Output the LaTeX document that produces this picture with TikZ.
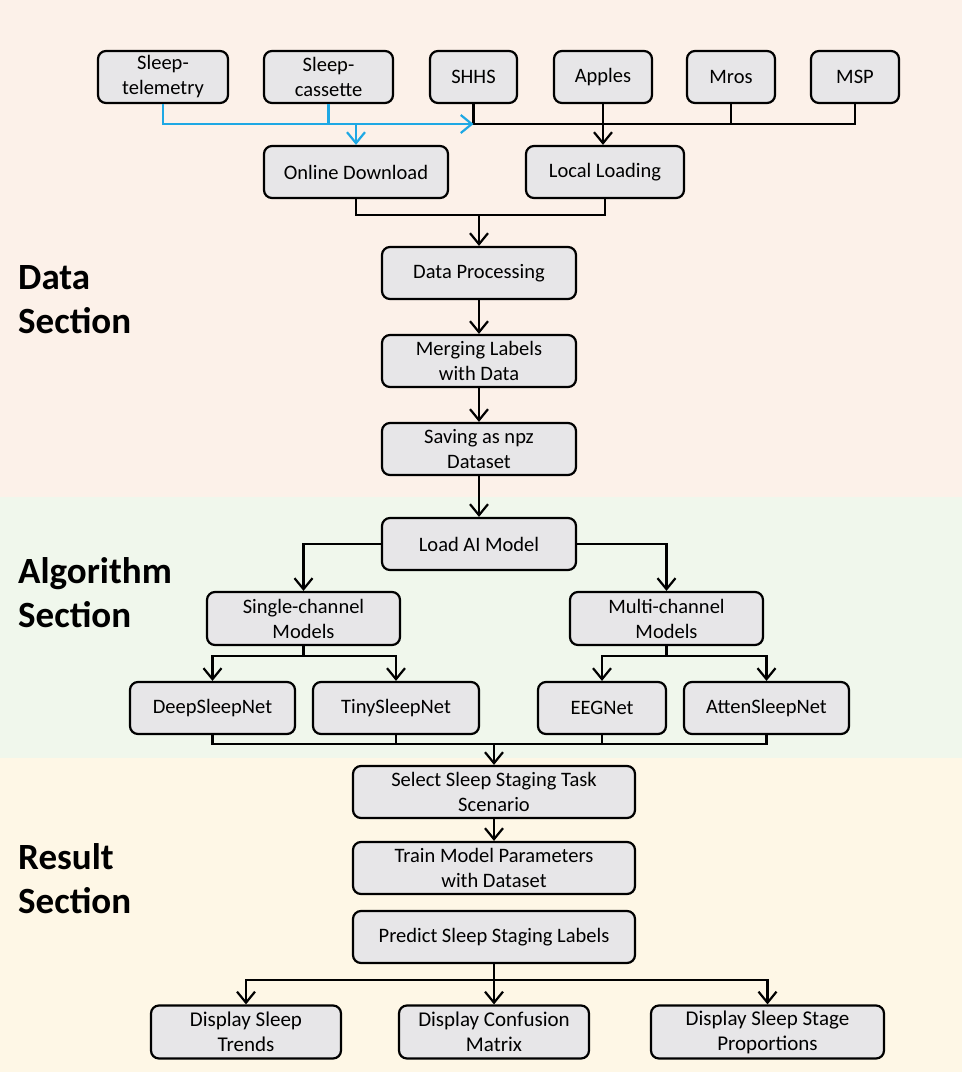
\documentclass[tikz,border=0pt]{standalone}
\usepackage{fontspec}
\setmainfont{Carlito}
\usetikzlibrary{arrows.meta}
\definecolor{bgdata}{RGB}{252,241,233}
\definecolor{bgalg}{RGB}{240,247,236}
\definecolor{bgres}{RGB}{254,247,230}
\definecolor{boxfill}{RGB}{231,230,232}
\definecolor{lineblue}{RGB}{30,168,228}
\tikzset{
  box/.style={draw=black, line width=2.2pt, rounded corners=8pt, fill=boxfill,
    align=center, inner sep=2pt, font=\fontsize{20.5}{25}\selectfont},
  conn/.style={draw=black, line width=2.2pt},
  bconn/.style={draw=lineblue, line width=2.2pt},
  arr/.style={-{Straight Barb[length=11pt,width=18pt,line width=2.2pt]}},
  seclabel/.style={align=left, anchor=west, inner sep=0pt,
    font=\fontsize{37}{44}\selectfont\bfseries}
}
\begin{document}
\begin{tikzpicture}[x=1pt,y=-1pt]
\useasboundingbox (0,0) rectangle (962,1072);
\fill[bgdata] (0,0) rectangle (962,497);
\fill[bgalg] (0,497) rectangle (962,758);
\fill[bgres] (0,758) rectangle (962,1072);

% section labels
\node[seclabel] (ls1) at (18,300) {Data\\Section};
\node[seclabel] (ls2) at (18,593) {Algorithm\\Section};
\node[seclabel] (ls3) at (18,879) {Result\\Section};

% top row
\node[box, minimum width=130pt, minimum height=52pt] (tel) at (163,77) {Sleep-\\telemetry};
\node[box, minimum width=129pt, minimum height=52pt] (cas) at (328.5,77) {Sleep-\\cassette};
\node[box, minimum width=87pt, minimum height=52pt] (shhs) at (473.5,77) {SHHS};
\node[box, minimum width=98pt, minimum height=52pt] (app) at (603,77) {Apples};
\node[box, minimum width=88pt, minimum height=52pt] (mros) at (731,77) {Mros};
\node[box, minimum width=88pt, minimum height=52pt] (msp) at (855,77) {MSP};

\node[box, minimum width=184pt, minimum height=52pt] (od) at (356,172) {Online Download};
\node[box, minimum width=158pt, minimum height=52pt] (ll) at (605,172) {Local Loading};

\node[box, minimum width=194pt, minimum height=52pt] (dp) at (479,273) {Data Processing};
\node[box, minimum width=194pt, minimum height=52pt] (ml) at (479,361) {Merging Labels\\with Data};
\node[box, minimum width=194pt, minimum height=52pt] (sv) at (479,449) {Saving as npz\\Dataset};
\node[box, minimum width=194pt, minimum height=52pt] (la) at (479,544) {Load AI Model};

\node[box, minimum width=193pt, minimum height=53pt] (sc) at (303.5,618.5) {Single-channel\\Models};
\node[box, minimum width=193pt, minimum height=53pt] (mc) at (666.5,618.5) {Multi-channel\\Models};

\node[box, minimum width=165pt, minimum height=52pt] (dsn) at (212.5,708) {DeepSleepNet};
\node[box, minimum width=166pt, minimum height=52pt] (tsn) at (396,708) {TinySleepNet};
\node[box, minimum width=128pt, minimum height=52pt] (eeg) at (602,708) {EEGNet};
\node[box, minimum width=165pt, minimum height=52pt] (asn) at (766.5,708) {AttenSleepNet};

\node[box, minimum width=282pt, minimum height=52pt] (sel) at (494,792) {Select Sleep Staging Task\\Scenario};
\node[box, minimum width=282pt, minimum height=52pt] (tr) at (494,868) {Train Model Parameters\\with Dataset};
\node[box, minimum width=282pt, minimum height=52pt] (pr) at (494,937) {Predict Sleep Staging Labels};

\node[box, minimum width=190pt, minimum height=53pt, font=\fontsize{21}{25}\selectfont] (d1) at (246,1032) {Display Sleep\\Trends};
\node[box, minimum width=190pt, minimum height=53pt, font=\fontsize{21}{25}\selectfont] (d2) at (494,1032) {Display Confusion\\Matrix};
\node[box, minimum width=233pt, minimum height=53pt, font=\fontsize{21}{25}\selectfont] (d3) at (767.5,1032) {Display Sleep Stage\\Proportions};

% junction rows
\coordinate (r1) at (0,124);
\coordinate (r2) at (0,215);
\coordinate (r3) at (0,544);
\coordinate (r4) at (0,656);
\coordinate (r5) at (0,744);
\coordinate (r6) at (0,980);

% top connectors (black)
\draw[conn] (shhs.south) -- (shhs.south|-r1) -- (msp.south|-r1) -- (msp.south);
\draw[conn] (mros.south) -- (mros.south|-r1);
\draw[conn,arr] (app.south) -- (app.south|-ll.north);
% blue connectors
\draw[bconn] (cas.south) -- (cas.south|-r1);
\draw[bconn,arr] (tel.south) -- (tel.south|-r1) -- (shhs.south|-r1);
\draw[bconn,arr] (od.north|-r1) -- (od.north);

% merge downloads
\draw[conn] (od.south) -- (od.south|-r2) -- (ll.south|-r2) -- (ll.south);
\draw[conn,arr] (dp.north|-r2) -- (dp.north);

% chain
\draw[conn,arr] (dp.south) -- (ml.north);
\draw[conn,arr] (ml.south) -- (sv.north);
\draw[conn,arr] (sv.south) -- (la.north);

% load AI model branches
\draw[conn,arr] (la.west|-r3) -- (sc.north|-r3) -- (sc.north);
\draw[conn,arr] (la.east|-r3) -- (mc.north|-r3) -- (mc.north);

% model branches
\draw[conn] (sc.south) -- (sc.south|-r4);
\draw[conn,arr] (sc.south|-r4) -- (dsn.north|-r4) -- (dsn.north);
\draw[conn,arr] (sc.south|-r4) -- (tsn.north|-r4) -- (tsn.north);
\draw[conn] (mc.south) -- (mc.south|-r4);
\draw[conn,arr] (mc.south|-r4) -- (eeg.north|-r4) -- (eeg.north);
\draw[conn,arr] (mc.south|-r4) -- (asn.north|-r4) -- (asn.north);

% merge models
\draw[conn] (dsn.south) -- (dsn.south|-r5) -- (asn.south|-r5) -- (asn.south);
\draw[conn] (tsn.south) -- (tsn.south|-r5);
\draw[conn] (eeg.south) -- (eeg.south|-r5);
\draw[conn,arr] (sel.north|-r5) -- (sel.north);

\draw[conn,arr] (sel.south) -- (tr.north);

% display outputs
\draw[conn,arr] (pr.south) -- (d2.north);
\draw[conn,arr] (pr.south|-r6) -- (d1.north|-r6) -- (d1.north);
\draw[conn,arr] (pr.south|-r6) -- (d3.north|-r6) -- (d3.north);
\end{tikzpicture}
\end{document}
